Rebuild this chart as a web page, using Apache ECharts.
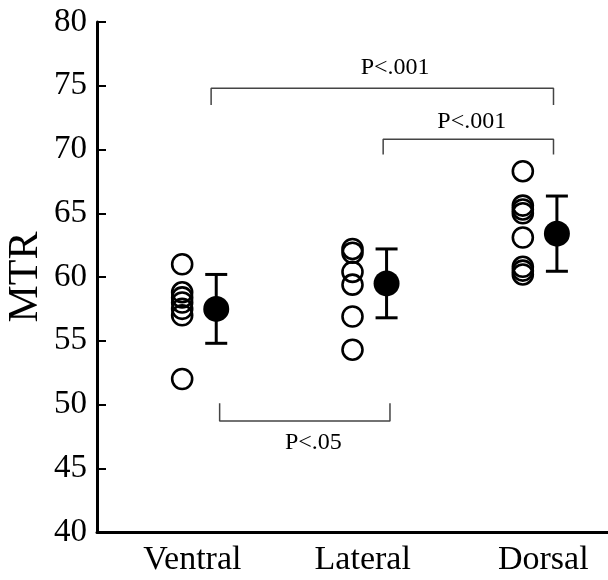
<!DOCTYPE html>
<html>
<head>
<meta charset="utf-8">
<script src="https://cdn.jsdelivr.net/npm/echarts@6/dist/echarts.min.js"></script>
<style>html,body{margin:0;padding:0;background:#fff;}#c{width:608px;height:580px;}</style>
</head>
<body>
<div id="c"></div>
<script>
// ---- data ----
const categories = ['Ventral', 'Lateral', 'Dorsal'];
const ventralValues = [61.0, 58.8, 58.4, 58.0, 57.5, 57.0, 52.0];
const lateralValues = [62.2, 61.9, 60.4, 59.4, 56.9, 54.3];
const dorsalValues = [68.3, 65.6, 65.3, 65.0, 63.1, 60.8, 60.5, 60.2];
const meanValues = [57.5, 59.5, 63.4];
const sdValues = [2.7, 2.7, 2.95];
const yTickMin = 40, yTickMax = 80, yTickStep = 5;
// annotation brackets (data coordinates): [xStart, xEnd, yLine, yEnd]
const bracketTop = [0.67, 2.68, 74.8, 73.5];
const bracketMid = [1.68, 2.68, 70.8, 69.6];
const bracketLow = [0.72, 1.72, 48.7, 50.1];
const pLabels = ['P<.001', 'P<.001', 'P<.05'];
const pLabelPos = [[1.75, 76.4], [2.2, 72.2], [1.27, 47.0]];
const catLabelPos = [0.56, 1.56, 2.62];

const groups = [ventralValues, lateralValues, dorsalValues];
const openData = [];
groups.forEach((arr, i) => arr.forEach(v => openData.push([i + 0.5, v])));
const meanData = meanValues.map((m, i) => [i + 0.7, m]);
const errData = meanValues.map((m, i) => [i + 0.7, m - sdValues[i], m + sdValues[i]]);
function bracketLine(b) {
  return [[b[0], b[3]], [b[0], b[2]], [b[1], b[2]], [b[1], b[3]]];
}
const FONT = 'Liberation Serif';

const chart = echarts.init(document.getElementById('c'));
chart.setOption({
  animation: false,
  backgroundColor: '#fff',
  grid: { left: 97, right: 0, top: 22, bottom: 48, containLabel: false, outerBoundsMode: 'none' },
  xAxis: {
    type: 'value', min: 0, max: 3,
    splitLine: { show: false },
    axisTick: { show: false },
    axisLine: { show: true, lineStyle: { color: '#000', width: 3 } },
    axisLabel: {
      customValues: catLabelPos,
      formatter: v => categories[Math.round(v - catLabelPos[0])],
      fontFamily: FONT, fontSize: 34, color: '#000', margin: 11
    }
  },
  yAxis: {
    type: 'value', min: yTickMin, max: yTickMax, interval: yTickStep,
    name: 'MTR', nameLocation: 'middle', nameGap: 50, nameMoveOverlap: false,
    nameTextStyle: { fontFamily: FONT, fontSize: 42, color: '#000' },
    splitLine: { show: false },
    axisLine: { show: true, lineStyle: { color: '#000', width: 3 } },
    axisTick: { show: true, inside: true, length: 9, lineStyle: { color: '#000', width: 2 } },
    axisLabel: { fontFamily: FONT, fontSize: 33, color: '#000', margin: 10 }
  },
  series: [
    {
      type: 'scatter', data: openData, symbol: 'circle', symbolSize: 20,
      itemStyle: { color: 'rgba(0,0,0,0)', borderColor: '#000', borderWidth: 2.6, opacity: 1 },
      z: 3
    },
    {
      type: 'custom', data: errData, z: 2,
      renderItem: function (params, api) {
        const x = api.value(0);
        const lo = api.coord([x, api.value(1)]);
        const hi = api.coord([x, api.value(2)]);
        const hw = 11;
        const st = { stroke: '#000', lineWidth: 3 };
        return {
          type: 'group',
          children: [
            { type: 'line', shape: { x1: lo[0], y1: lo[1], x2: hi[0], y2: hi[1] }, style: st },
            { type: 'line', shape: { x1: lo[0] - hw, y1: lo[1], x2: lo[0] + hw, y2: lo[1] }, style: st },
            { type: 'line', shape: { x1: hi[0] - hw, y1: hi[1], x2: hi[0] + hw, y2: hi[1] }, style: st }
          ]
        };
      }
    },
    {
      type: 'scatter', data: meanData, symbol: 'circle', symbolSize: 26,
      itemStyle: { color: '#000', opacity: 1 }, z: 4
    },
    ...[bracketTop, bracketMid, bracketLow].map(b => ({
      type: 'line', data: bracketLine(b), symbol: 'none',
      lineStyle: { color: '#444', width: 1.5 }, z: 1
    })),
    {
      type: 'scatter', symbolSize: 0,
      itemStyle: { opacity: 1 },
      data: pLabels.map((t, i) => ({ name: t, value: pLabelPos[i] })),
      label: { show: true, position: 'inside', formatter: p => p.name,
        fontFamily: FONT, fontSize: 24, color: '#000', opacity: 1 }
    }
  ]
});
</script>
</body>
</html>
